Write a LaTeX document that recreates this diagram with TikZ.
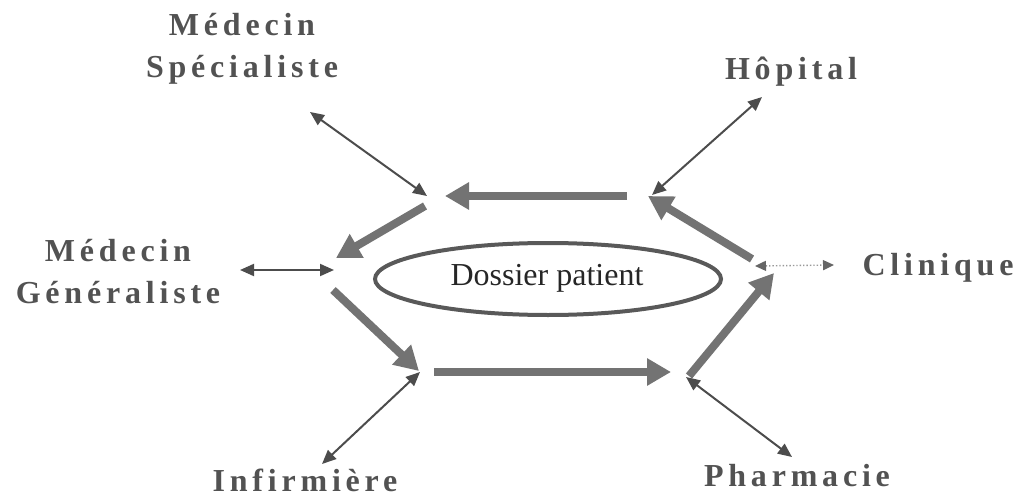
\documentclass[tikz,border=0pt]{standalone}
\usepackage{fontspec}
\setmainfont{Liberation Serif}
\newfontfamily\actorfont[LetterSpace=15]{Liberation Serif}
\usetikzlibrary{arrows.meta}

\begin{document}
\begin{tikzpicture}[x=1pt,y=-1pt,
  actor/.style={font=\actorfont\bfseries\fontsize{32}{42}\selectfont,
                text=black!68, align=center, inner sep=0pt},
  flow/.style={draw=black!55, line width=8pt,
               -{Triangle[length=24pt,width=26pt]}},
  link/.style={draw=black!70, line width=2pt,
               {Triangle[length=14pt,width=12pt]}-{Triangle[length=14pt,width=12pt]}},
  weaklink/.style={draw=black!40, line width=1.4pt, dotted,
               {Triangle[length=11pt,width=10pt,color=black!60]}-{Triangle[length=11pt,width=10pt,color=black!60]}}
]
\useasboundingbox (0,0) rectangle (1027,497);

% central record
\draw[draw=black!65, line width=4pt] (548,279) ellipse [x radius=173, y radius=36];
\node[font=\fontsize{32}{38}\selectfont, text=black!85, anchor=base, inner sep=0pt]
  (dossier) at (547,285) {Dossier patient};

% actors
\node[actor, anchor=center] (specialiste) at (242,49) {Médecin\\Spécialiste};
\node[actor, anchor=base]   (hopital)     at (791,80) {Hôpital};
\node[actor, anchor=center] (generaliste) at (118,272) {Médecin\\Généraliste};
\node[actor, anchor=base]   (clinique)    at (938,275) {Clinique};
\node[actor, anchor=base]   (infirmiere)  at (305,491) {Infirmière};
\node[actor, anchor=base]   (pharmacie)   at (797,486) {Pharmacie};

% hubs around the record
\coordinate (hubTL) at (427,196);
\coordinate (hubL)  at (334,270);
\coordinate (hubBL) at (420,372);
\coordinate (hubBR) at (686,377);
\coordinate (hubR)  at (755,266);
\coordinate (hubTR) at (652,195);

% outer ends of the actor links
\coordinate (endSpec)  at (310,112);
\coordinate (endHop)   at (762,97);
\coordinate (endGen)   at (240,270);
\coordinate (endClin)  at (834,265);
\coordinate (endInf)   at (322,464);
\coordinate (endPharm) at (792,457);

% circulation of the record
\draw[flow] (627,196) -- (445,196);
\draw[flow] (425,206) -- (336,258);
\draw[flow] (333,290) -- (419,371);
\draw[flow] (434,372) -- (671,372);
\draw[flow] (689,376) -- (774,273);
\draw[flow] (752,259) -- (648,196);

% actor links
\draw[link] (endSpec) -- (hubTL);
\draw[link] (endHop) -- (hubTR);
\draw[link] (endGen) -- (hubL);
\draw[weaklink] (hubR) -- (endClin);
\draw[link] (hubBL) -- (endInf);
\draw[link] (hubBR) -- (endPharm);
\end{tikzpicture}
\end{document}
